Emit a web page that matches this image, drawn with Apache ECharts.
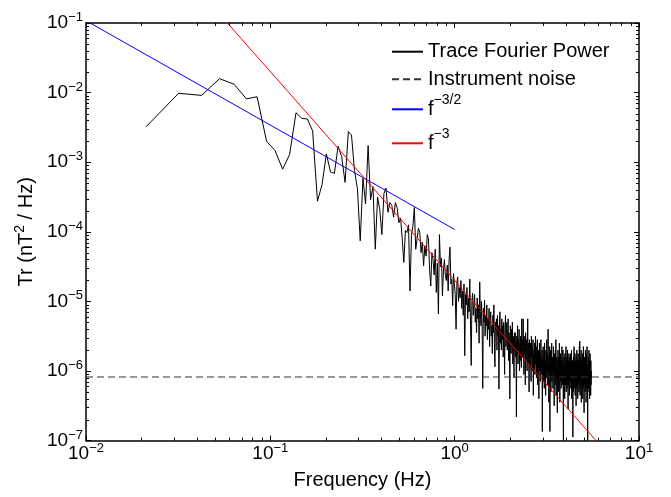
<!DOCTYPE html>
<html><head><meta charset="utf-8">
<script src="https://cdn.jsdelivr.net/npm/echarts@6/dist/echarts.min.js"></script>
<style>html,body{margin:0;padding:0;background:#fff}#c{width:671px;height:497px}</style>
</head><body><div id="c"></div>
<script>
const FONT = '"Liberation Sans", Arial, Helvetica, sans-serif';

// FFT bin spacing (Hz) and index of first plotted bin
const binWidth = 0.0106;
const firstBin = 2;

// log10 of trace Fourier power (nT^2/Hz), one value per frequency bin
const traceLogPower = [
-2.49,-2.01,-2.04,-1.80,-1.88,-2.09,-2.06,-2.70,-2.83,-3.10,-2.89,-2.29,-2.37,-2.38,-2.55,-3.56,-3.32,-2.88,-3.14,-3.16,-2.77,
-2.92,-3.29,-2.56,-2.61,-3.12,-3.38,-4.13,-3.23,-3.60,-2.76,-3.54,-3.35,-4.25,-3.50,-3.68,-4.04,-3.45,-3.37,
-3.72,-3.58,-3.62,-3.79,-3.58,-3.66,-3.87,-3.80,-4.10,-4.44,-3.98,-4.01,-3.90,-4.85,-4.05,-3.92,-3.65,-4.25,-4.10,-3.95,
-4.01,-4.30,-4.15,-4.49,-4.20,-4.35,-4.04,-4.10,-4.55,-4.78,-4.30,-4.40,-4.62,-4.25,-4.87,-4.45,-5.18,-4.04,-4.50,-4.38,
-4.92,-4.55,-4.40,-4.63,-4.70,-4.48,-4.85,-4.40,-4.22,-4.75,-4.68,-5.06,-4.60,-4.58,-4.90,-5.40,-4.72,-4.65,-5.00,-4.80,
-4.95,-4.70,-5.10,-4.85,-5.20,-4.75,-5.78,-4.90,-5.05,-4.80,-5.25,-4.95,-5.15,-4.68,-5.35,-5.92,-5.00,-4.88,-5.20,-5.05,
-4.90,-5.30,-5.10,-5.45,-4.95,-5.25,-5.05,-5.60,-4.72,-5.15,-5.35,-5.00,-5.40,-6.25,-5.10,-5.30,-4.98,-5.50,-5.20,-5.35,
-5.05,-5.55,-5.25,-5.40,-5.10,-5.65,-5.30,-5.15,-5.50,-5.35,-5.75,-5.20,-5.45,-5.05,-5.60,-5.94,-5.30,-5.40,-5.25,-5.70,
-5.20,-5.50,-5.35,-6.26,-5.45,-5.15,-5.60,-5.40,-5.70,-5.25,-5.55,-5.35,-5.80,-5.30,-5.50,-6.05,-5.40,-5.20,-5.65,-5.45,
-5.30,-5.70,-5.50,-5.25,-5.85,-5.45,-5.60,-6.40,-5.35,-5.55,-5.75,-5.40,-5.65,-5.30,-5.90,-5.50,-5.60,-6.10,-5.45,-5.70,
-5.45,-5.80,-5.60,-6.66,-5.50,-5.75,-5.35,-5.90,-5.55,-5.70,-5.40,-6.00,-5.60,-5.85,-5.50,-5.65,-5.95,-5.25,-5.70,-5.55,
-5.80,-5.25,-5.65,-6.05,-5.50,-5.75,-5.60,-6.20,-5.45,-5.85,-5.70,-5.55,-6.00,-5.65,-5.25,-5.90,-5.60,-5.80,-6.30,-5.55,
-5.70,-5.95,-5.60,-5.85,-6.15,-5.50,-5.80,-5.65,-6.00,-5.75,-5.55,-6.35,-5.85,-5.70,-5.95,-5.60,-6.05,-5.80,-5.50,-5.90,
-5.75,-6.10,-5.65,-5.90,-5.55,-6.20,-5.80,-5.95,-5.70,-6.40,-5.85,-5.60,-6.00,-5.75,-6.15,-5.90,-5.55,-6.05,-5.80,-5.95,
-5.70,-6.87,-5.85,-6.00,-5.65,-6.15,-5.90,-5.75,-6.25,-5.60,-6.05,-5.85,-5.95,-6.35,-5.70,-6.10,-5.80,-5.55,-6.00,-5.90,
-5.75,-6.20,-5.40,-6.05,-5.90,-6.45,-5.80,-6.00,-5.65,-6.87,-5.95,-6.10,-5.70,-6.30,-5.85,-6.05,-5.60,-6.15,-5.90,-6.00,
-5.80,-6.25,-5.95,-5.65,-6.10,-5.85,-6.50,-5.75,-6.00,-5.90,-6.20,-5.70,-6.05,-5.55,-6.35,-5.95,-6.10,-5.80,-6.00,-6.60,
-5.85,-6.15,-5.70,-6.05,-5.95,-6.30,-5.80,-6.10,-5.60,-6.00,-6.45,-5.90,-6.15,-5.75,-6.05,-5.85,-6.25,-5.95,-6.10,-5.65,
-6.00,-6.20,-5.85,-6.10,-5.70,-6.35,-7.00,-5.90,-6.05,-5.80,-6.15,-5.95,-6.40,-5.75,-6.05,-6.20,-5.85,-6.00,-5.65,-6.30,
-5.95,-6.10,-5.80,-6.25,-6.00,-5.70,-6.15,-5.90,-6.55,-5.85,-6.05,-6.20,-5.75,-6.10,-5.95,-6.35,-5.80,-6.00,-6.15,-5.90,
-6.05,-5.75,-6.25,-5.95,-6.10,-5.70,-6.40,-5.90,-6.05,-6.20,-5.85,-6.15,-6.95,-5.95,-6.30,-5.80,-6.10,-6.00,-5.65,-6.25,
-5.90,-6.15,-6.00,-5.75,-6.35,-6.05,-5.85,-6.20,-5.95,-6.50,-5.80,-6.10,-6.00,-5.70,-6.25,-5.95,-6.15,-5.85,-6.40,-6.00,
-5.75,-6.20,-5.95,-6.10,-5.85,-6.30,-6.00,-5.65,-6.15,-5.57,-6.05,-6.35,-5.90,-6.10,-5.80,-6.25,-6.00,-5.70,-6.45,-5.95,
-6.10,-5.85,-6.20,-5.95,-6.05,-5.75,-6.40,-6.00,-5.90,-6.15,-5.65,-6.25,-6.05,-5.85,-6.60,-5.95,-6.10,-5.80,-6.20,-6.00,
-5.90,-6.30,-5.70,-6.05,-6.15,-5.85,-6.45,-5.95,-6.10,-5.75,-6.25,-6.00,-5.65,-6.20,-5.95,-6.35,-7.00,-5.90,-6.05,-6.15,
-5.80,-6.25,-5.95,-6.10,-5.70,-6.30,-6.00,-5.85,-6.40,-5.95,-6.15,-5.75,-6.20,-6.05,-5.90,-6.35,-5.85,-6.10,-6.00,-6.20
];

const noiseFreq = [0.01, 10];
const noisePower = [8.2e-7, 8.2e-7];
const fit32Freq = [0.0106, 1.0];
const fit32Power = [0.099, 1.08e-4];
const fit3Freq = [0.0585, 5.85];
const fit3Power = [0.1, 1e-7];

const seriesNames = ['Trace Fourier Power', 'Instrument noise', 'f^-3/2', 'f^-3'];
const legendLabels = ['Trace Fourier Power', 'Instrument noise', '{b|f}{s|−3/2}', '{b|f}{s|−3}'];

const traceData = traceLogPower.map((v, i) => [(firstBin + i) * binWidth, Math.pow(10, v)]);
const pairs = (xs, ys) => xs.map((x, i) => [x, ys[i]]);

const xMinor = [], yMinor = [];
for (let e = -2; e < 1; e++) for (let m = 2; m <= 9; m++) xMinor.push([m * Math.pow(10, e), 1e-4]);
for (let e = -7; e < -1; e++) for (let m = 2; m <= 9; m++) yMinor.push([0.1, m * Math.pow(10, e)]);

function tickLine(x1, y1, x2, y2) {
  return {type: 'line', shape: {x1, y1, x2, y2}, style: {stroke: '#000', lineWidth: 1}};
}
function renderXMinor(params, api) {
  const cs = params.coordSys;
  const x = Math.round(api.coord([api.value(0), api.value(1)])[0]) + 0.5;
  const b = cs.y + cs.height, t = cs.y;
  return {type: 'group', children: [tickLine(x, b, x, b - 3), tickLine(x, t, x, t + 3)]};
}
function renderYMinor(params, api) {
  const cs = params.coordSys;
  const y = Math.round(api.coord([api.value(0), api.value(1)])[1]) + 0.5;
  const l = cs.x, r = cs.x + cs.width;
  return {type: 'group', children: [tickLine(l, y, l + 3, y), tickLine(r, y, r - 3, y)]};
}

function expLabel(v) {
  const e = Math.round(Math.log10(v));
  return '{b|10}{s|' + (e < 0 ? '−' + (-e) : e) + '}';
}
const labelRich = {
  b: {fontSize: 19, lineHeight: 24, fontFamily: FONT, color: '#000'},
  s: {fontSize: 13, lineHeight: 13, verticalAlign: 'top', fontFamily: FONT, color: '#000'}
};
const axisLineStyle = {color: '#000', width: 1.5};

const legendCenters = [51.7, 79.3, 109.3, 143.3];

const option = {
  backgroundColor: '#fff',
  animation: false,
  grid: {left: 86, right: 32, top: 23, bottom: 55},
  xAxis: [{
    type: 'log', logBase: 10, min: 0.01, max: 10,
    name: 'Frequency (Hz)', nameLocation: 'middle', nameGap: 26,
    nameTextStyle: {fontSize: 20, lineHeight: 24, fontFamily: FONT, color: '#000'},
    axisLine: {onZero: false, lineStyle: axisLineStyle},
    axisTick: {inside: true, length: 5, lineStyle: {color: '#000', width: 1}},
    axisLabel: {formatter: expLabel, rich: labelRich, margin: 1, showMinLabel: true, showMaxLabel: true},
    splitLine: {show: false}
  }, {
    type: 'log', logBase: 10, min: 0.01, max: 10, position: 'top',
    axisLine: {onZero: false, lineStyle: axisLineStyle},
    axisTick: {inside: true, length: 5, lineStyle: {color: '#000', width: 1}},
    axisLabel: {show: false}, splitLine: {show: false}
  }],
  yAxis: [{
    type: 'log', logBase: 10, min: 1e-7, max: 0.1,
    name: '{a|Tr (nT}{s|2}{a| / Hz)}', nameLocation: 'middle', nameGap: 46, nameRotate: 90,
    nameTextStyle: {rich: {
      a: {fontSize: 20, lineHeight: 26, fontFamily: FONT, color: '#000'},
      s: {fontSize: 14, lineHeight: 14, verticalAlign: 'top', fontFamily: FONT, color: '#000'}
    }},
    axisLine: {onZero: false, lineStyle: axisLineStyle},
    axisTick: {inside: true, length: 5, lineStyle: {color: '#000', width: 1}},
    axisLabel: {formatter: expLabel, rich: labelRich, margin: 3, showMinLabel: true, showMaxLabel: true},
    splitLine: {show: false}
  }, {
    type: 'log', logBase: 10, min: 1e-7, max: 0.1, position: 'right',
    axisLine: {onZero: false, lineStyle: axisLineStyle},
    axisTick: {inside: true, length: 5, lineStyle: {color: '#000', width: 1}},
    axisLabel: {show: false}, splitLine: {show: false}
  }],
  legend: seriesNames.map((n, i) => ({
    data: [n], orient: 'vertical', left: 391, top: legendCenters[i] - 16, padding: 0,
    itemWidth: 31, itemHeight: 14, selectedMode: false,
    itemStyle: {opacity: 0, borderWidth: 0},
    formatter: () => legendLabels[i],
    textStyle: {fontSize: 20, lineHeight: 32, fontFamily: FONT, color: '#000', rich: {
      b: {fontSize: 20, lineHeight: 32, fontFamily: FONT, color: '#000'},
      s: {fontSize: 14, lineHeight: 14, verticalAlign: 'top', fontFamily: FONT, color: '#000'}
    }}
  })),
  series: [
    {name: seriesNames[0], type: 'line', data: traceData, symbol: 'none', z: 2,
     lineStyle: {color: '#000', width: 1}, itemStyle: {color: '#000'}},
    {name: seriesNames[1], type: 'line', data: pairs(noiseFreq, noisePower), symbol: 'none', z: 3,
     lineStyle: {color: '#333', width: 1, type: [7, 4]}, itemStyle: {color: '#333'}},
    {name: seriesNames[2], type: 'line', data: pairs(fit32Freq, fit32Power), symbol: 'none', z: 4,
     lineStyle: {color: '#0000ff', width: 1}, itemStyle: {color: '#0000ff'}},
    {name: seriesNames[3], type: 'line', data: pairs(fit3Freq, fit3Power), symbol: 'none', z: 5,
     lineStyle: {color: '#ff0000', width: 1}, itemStyle: {color: '#ff0000'}},
    {type: 'custom', data: xMinor, renderItem: renderXMinor, silent: true, clip: false, z: 10},
    {type: 'custom', data: yMinor, renderItem: renderYMinor, silent: true, clip: false, z: 10}
  ]
};
const chart = echarts.init(document.getElementById('c'), null, {renderer: 'canvas'});
chart.setOption(option);
</script></body></html>
